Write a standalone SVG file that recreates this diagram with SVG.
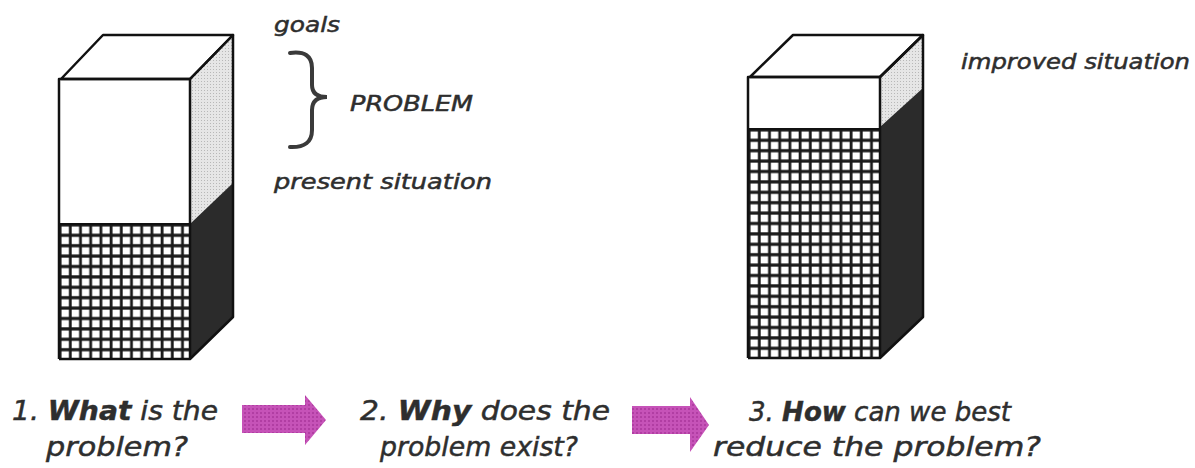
<svg xmlns="http://www.w3.org/2000/svg" width="1195" height="468" viewBox="0 0 1195 468">
  <style>
    .edge { fill: none; stroke: #111; stroke-width: 2.5; stroke-linejoin: round; }
    .white { fill: #ffffff; }
    .dark { fill: #2b2b2b; }
    .lbl { font-family: "DejaVu Sans", "Liberation Sans", sans-serif; font-style: italic; fill: #2e2e2e; stroke: #2e2e2e; stroke-width: 0.5; }
    .big { font-size: 27px; }
    .small { font-size: 21px; }
    .b { font-weight: bold; }
  </style>
  <defs>
    <pattern id="gridL" patternUnits="userSpaceOnUse" x="59" y="224" width="10.2" height="10.4">
      <rect width="10.2" height="10.4" fill="#1a1a1a"/>
      <rect x="2.5" y="2.5" width="7.4" height="7.2" fill="#ffffff"/>
    </pattern>
    <pattern id="gridR" patternUnits="userSpaceOnUse" x="748" y="129" width="10.2" height="10.4">
      <rect width="10.2" height="10.4" fill="#1a1a1a"/>
      <rect x="2.5" y="2.5" width="7.4" height="7.2" fill="#ffffff"/>
    </pattern>
    <pattern id="dots" patternUnits="userSpaceOnUse" width="3" height="3">
      <rect width="3" height="3" fill="#e6e6e6"/>
      <rect width="1" height="1" fill="#b8b8b8"/>
    </pattern>
    <pattern id="pink" patternUnits="userSpaceOnUse" width="4" height="4">
      <rect width="4" height="4" fill="#c653b8"/>
      <rect width="2" height="2" fill="#b13ea3"/>
    </pattern>
  </defs>

  <g id="box-present">
    <polygon points="61,79 103,35 233,35 190,79" class="white"/>
    <rect x="59" y="79" width="131" height="145" class="white"/>
    <rect x="59" y="224" width="131" height="135" fill="url(#gridL)"/>
    <polygon points="190,79 233,35 233,317 190,359" fill="url(#dots)"/>
    <polygon points="190,224 233,183 233,317 190,359" class="dark"/>
    <polygon points="61,79 103,35 233,35 190,79" class="edge"/>
    <polyline points="59,359 59,79 190,79 190,359" class="edge"/>
    <polyline points="190,79 233,35 233,317 190,359 59,359" class="edge"/>
    <line x1="59" y1="224" x2="190" y2="224" stroke="#111" stroke-width="2"/>
  </g>

  <g id="box-improved">
    <polygon points="750,77 793,35 923,35 880,77" class="white"/>
    <rect x="748" y="77" width="132" height="52" class="white"/>
    <rect x="748" y="129" width="132" height="229" fill="url(#gridR)"/>
    <polygon points="880,77 923,35 923,317 880,358" fill="url(#dots)"/>
    <polygon points="880,127 923,88 923,317 880,358" class="dark"/>
    <polygon points="750,77 793,35 923,35 880,77" class="edge"/>
    <polyline points="748,358 748,77 880,77 880,358" class="edge"/>
    <polyline points="880,77 923,35 923,317 880,358 748,358" class="edge"/>
    <line x1="748" y1="129" x2="880" y2="129" stroke="#111" stroke-width="2"/>
  </g>

  <g id="labels-top">
    <text class="lbl small" x="274" y="32" textLength="66" lengthAdjust="spacingAndGlyphs">goals</text>
    <path d="M290,53 Q312,50 312,68 L312,85 Q312,97 327,97 Q312,97 312,110 L312,130 Q312,148 290,147" fill="none" stroke="#3a3a3a" stroke-width="4" stroke-linecap="round"/>
    <text class="lbl small" x="350" y="111" textLength="123" lengthAdjust="spacingAndGlyphs">PROBLEM</text>
    <text class="lbl small" x="274" y="189" textLength="218" lengthAdjust="spacingAndGlyphs">present situation</text>
    <text class="lbl small" x="961" y="69" textLength="229" lengthAdjust="spacingAndGlyphs">improved situation</text>
  </g>

  <g id="connectors">
    <polygon fill="url(#pink)" points="242,405 305,405 305,395 326,420 305,445 305,433 242,433"/>
    <polygon fill="url(#pink)" points="632,406 690,406 690,397 709,425 690,452 690,434 632,434"/>
  </g>

  <g id="step1">
    <text class="lbl big" x="12" y="420" textLength="206" lengthAdjust="spacingAndGlyphs">1. <tspan class="b">What</tspan> is the</text>
    <text class="lbl big" x="46" y="456" textLength="142" lengthAdjust="spacingAndGlyphs">problem?</text>
  </g>
  <g id="step2">
    <text class="lbl big" x="360" y="420" textLength="250" lengthAdjust="spacingAndGlyphs">2. <tspan class="b">Why</tspan> does the</text>
    <text class="lbl big" x="380" y="456" textLength="198" lengthAdjust="spacingAndGlyphs">problem exist?</text>
  </g>
  <g id="step3">
    <text class="lbl big" x="749" y="421" textLength="262" lengthAdjust="spacingAndGlyphs">3. <tspan class="b">How</tspan> can we best</text>
    <text class="lbl big" x="713" y="456" textLength="328" lengthAdjust="spacingAndGlyphs">reduce the problem?</text>
  </g>
</svg>
